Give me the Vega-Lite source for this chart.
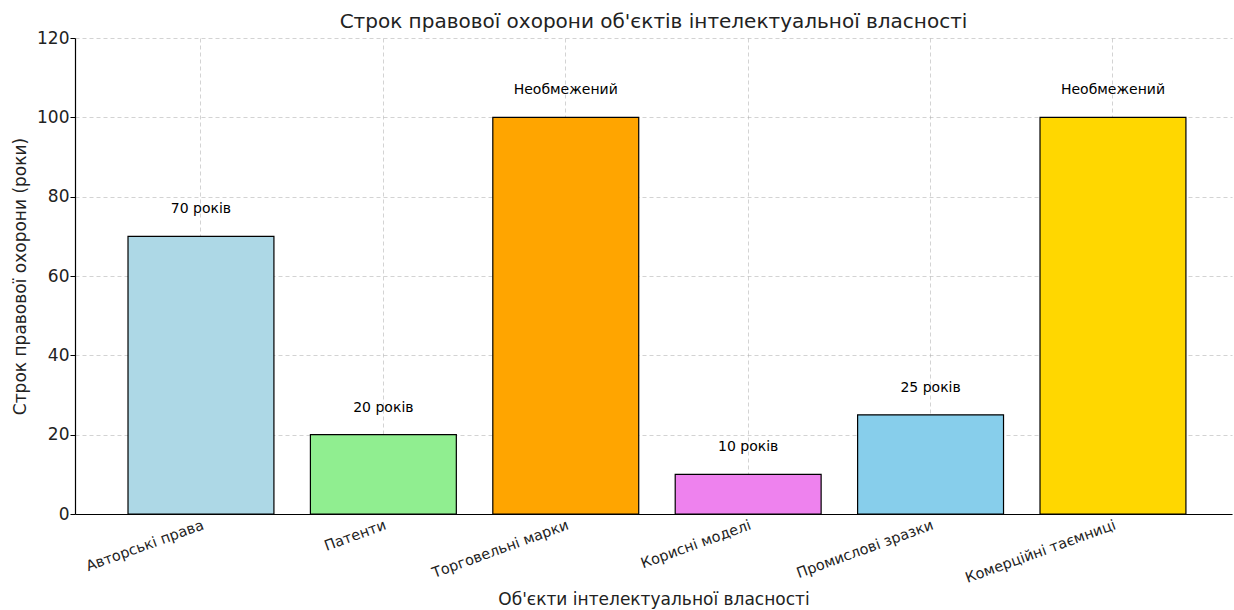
{
  "$schema": "https://vega.github.io/schema/vega-lite/v6.json",
  "width": 1157,
  "height": 476,
  "autosize": {"type": "none"},
  "padding": {"left": 75, "top": 38, "right": 2, "bottom": 96},
  "background": "white",
  "config": {
    "font": "DejaVu Sans",
    "view": {"stroke": null},
    "axis": {
      "domainColor": "#000000",
      "domainWidth": 1.2,
      "tickColor": "#000000",
      "tickSize": 5,
      "labelColor": "#222222",
      "titleColor": "#222222",
      "titleFontWeight": "normal",
      "gridColor": "#b0b0b0",
      "gridOpacity": 0.7,
      "gridDash": [4, 3],
      "gridWidth": 0.8,
      "zindex": 1
    }
  },
  "title": {
    "text": "Строк правової охорони об'єктів інтелектуальної власності",
    "fontSize": 20,
    "fontWeight": "normal",
    "color": "#222222",
    "anchor": "middle",
    "offset": -3
  },
  "data": {
    "values": [
      {"object": "Авторські права", "years": 70, "label": "70 років"},
      {"object": "Патенти", "years": 20, "label": "20 років"},
      {"object": "Торговельні марки", "years": 100, "label": "Необмежений"},
      {"object": "Корисні моделі", "years": 10, "label": "10 років"},
      {"object": "Промислові зразки", "years": 25, "label": "25 років"},
      {"object": "Комерційні таємниці", "years": 100, "label": "Необмежений"}
    ]
  },
  "encoding": {
    "x": {
      "field": "object",
      "type": "nominal",
      "sort": null,
      "scale": {"paddingInner": 0.2, "paddingOuter": 0.2716, "align": 0.535},
      "axis": {
        "title": "Об'єкти інтелектуальної власності",
        "titleFontSize": 17,
        "titleY": 90,
        "titleBaseline": "alphabetic",
        "labelFontSize": 14.5,
        "labelAngle": -20,
        "labelAlign": "right",
        "labelBaseline": "top",
        "labelPadding": 9,
        "tickSize": -5,
        "bandPosition": 0.5,
        "grid": true
      }
    },
    "y": {
      "field": "years",
      "type": "quantitative",
      "scale": {"domain": [0, 120], "nice": false},
      "axis": {
        "title": "Строк правової охорони (роки)",
        "titleFontSize": 17,
        "titlePadding": 7,
        "labelFontSize": 17,
        "values": [0, 20, 40, 60, 80, 100, 120],
        "labelPadding": 1,
        "grid": true
      }
    }
  },
  "layer": [
    {
      "mark": {"type": "bar", "stroke": "#000000", "strokeWidth": 1.2},
      "encoding": {
        "color": {
          "field": "object",
          "type": "nominal",
          "sort": null,
          "scale": {
            "domain": ["Авторські права", "Патенти", "Торговельні марки", "Корисні моделі", "Промислові зразки", "Комерційні таємниці"],
            "range": ["#ADD8E6", "#90EE90", "#FFA500", "#EE82EE", "#87CEEB", "#FFD700"]
          },
          "legend": null
        }
      }
    },
    {
      "mark": {"type": "text", "baseline": "bottom", "align": "center", "dy": -20, "fontSize": 14, "color": "#000000"},
      "encoding": {
        "text": {"field": "label"}
      }
    }
  ]
}
